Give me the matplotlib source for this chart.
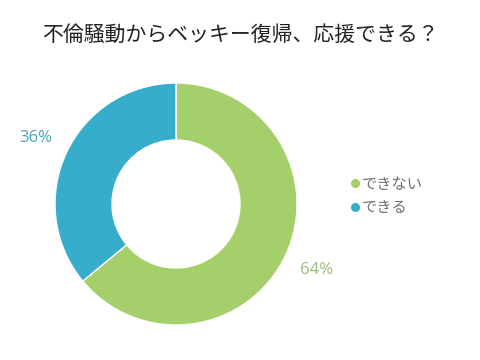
import matplotlib
matplotlib.use("Agg")
import matplotlib.pyplot as plt
from matplotlib.lines import Line2D

plt.rcParams['font.family'] = ['Noto Sans CJK JP', 'DejaVu Sans']

title = "不倫騒動からベッキー復帰、応援できる？"
categories = ["できない", "できる"]
values = [64, 36]
colors = ["#a5cf6a", "#36aecb"]
label_colors = ["#9cbf76", "#4aa5bb"]

fig = plt.figure(figsize=(4.8, 3.6), dpi=100)
ax = fig.add_axes([0, 0, 1, 1])

wedges, texts, autotexts = ax.pie(
    values, colors=colors, startangle=90, counterclock=False,
    center=(176, 156), radius=121, frame=True,
    wedgeprops=dict(width=57, edgecolor='white', linewidth=1),
    autopct=lambda p: f"{p:.0f}%", pctdistance=1.28,
    textprops=dict(fontsize=12, family=['Open Sans', 'DejaVu Sans']))
for t, c in zip(autotexts, label_colors):
    t.set_color(c)
ax.set_xlim(0, 480)
ax.set_ylim(0, 360)
ax.set_aspect('equal')
ax.axis('off')

fig.text(0.5, 1 - 35 / 360, title, ha='center', va='center', fontsize=15, color='#222222')

handles = [Line2D([0], [0], marker='o', linestyle='none', markersize=5.5,
                  markerfacecolor=c, markeredgecolor=c) for c in colors]
leg = ax.legend(handles, categories, loc='center left',
                bbox_to_anchor=(337 / 480, 1 - 196 / 360), frameon=False,
                handlelength=0.6, handletextpad=0.1, labelspacing=0.45,
                fontsize=11, labelcolor='#707070')

fig.savefig("out.png", dpi=100)
